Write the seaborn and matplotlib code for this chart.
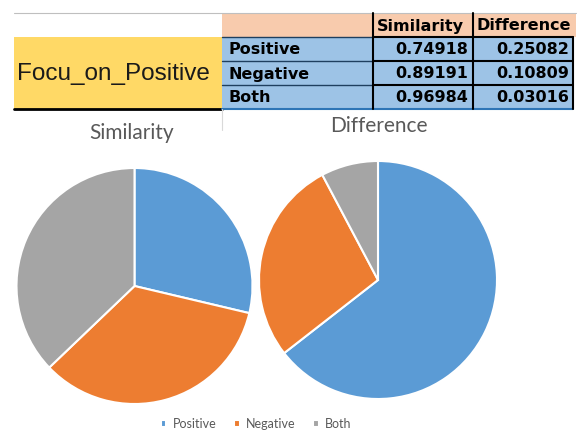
import matplotlib
matplotlib.use("Agg")
import matplotlib.pyplot as plt
import matplotlib.patches as mpatches
import seaborn as sns

# =============================================================================
# Data
# =============================================================================
GROUP_LABEL = "Focu_on_Positive"
CATEGORIES = ["Positive", "Negative", "Both"]
SIMILARITY = [0.74918, 0.89191, 0.96984]
DIFFERENCE = [0.25082, 0.10809, 0.03016]
COLUMNS = ["Similarity", "Difference"]

COLORS = ["#5B9BD5", "#ED7D31", "#A5A5A5"]
TEXT_GRAY = "#595959"

W, H = 585, 430

sns.set_theme(style="white")
plt.rcParams["font.family"] = ["Liberation Sans", "DejaVu Sans"]

fig = plt.figure(figsize=(W / 100, H / 100), dpi=100)

# =============================================================================
# Table drawn in pixel coordinates
# =============================================================================
ax_t = fig.add_axes([0, 0, 1, 1])
ax_t.set_xlim(0, W)
ax_t.set_ylim(H, 0)
ax_t.axis("off")

x_left, x_lab, x_c1, x_c2, x_right = 14, 222, 373, 473, 573
y_top, y_rows = 13, [37, 61, 85, 109]
cell_font = dict(fontsize=11.5, fontweight="bold", family=["DejaVu Sans"], color="black")

# header row
ax_t.add_patch(mpatches.Rectangle((x_lab, y_top), x_right + 3 - x_lab, y_rows[0] - y_top,
                                  color="#F8CBAD", lw=0))
# yellow group cell
ax_t.add_patch(mpatches.Rectangle((x_left, y_rows[0]), x_lab - x_left, y_rows[-1] - y_rows[0],
                                  color="#FFD966", lw=0))
# blue cells
ax_t.add_patch(mpatches.Rectangle((x_lab, y_rows[0]), x_right - x_lab, y_rows[-1] - y_rows[0],
                                  color="#9DC3E6", lw=0))

ax_t.plot([x_left, x_right + 3], [y_top, y_top], color="#BFBFBF", lw=0.8)
ax_t.plot([x_left, x_lab], [y_rows[-1], y_rows[-1]], color="black", lw=2)
ax_t.plot([x_lab, x_right], [y_rows[-1], y_rows[-1]], color="#2E75B6", lw=1.5)
for y in y_rows[:-1]:
    ax_t.plot([x_lab, x_c1], [y, y], color="#1F3F5F", lw=1.0)
    ax_t.plot([x_c1, x_right], [y, y], color="black", lw=1.5)
for x in [x_c1, x_c2]:
    ax_t.plot([x, x], [y_top, y_rows[-1]], color="black", lw=1.5)
ax_t.plot([x_right, x_right], [y_rows[0], y_rows[-1]], color="black", lw=1.5)
ax_t.plot([x_lab, x_lab], [y_rows[-1], 130], color="#D9D9D9", lw=0.8)

ax_t.text(113, (y_rows[0] + y_rows[-1]) / 2 + 1, GROUP_LABEL,
          ha="center", va="center", fontsize=17.5, color="#1a1a1a")
ax_t.text(x_c1 + 4, (y_top + y_rows[0]) / 2 + 1, COLUMNS[0], ha="left", va="center",
          **cell_font)
ax_t.text(x_c2 + 3, (y_top + y_rows[0]) / 2 + 1, COLUMNS[1], ha="left", va="center",
          **cell_font)
for i, cat in enumerate(CATEGORIES):
    yc = (y_rows[i] + y_rows[i + 1]) / 2 + 1
    ax_t.text(x_lab + 6, yc, cat, ha="left", va="center", **cell_font)
    ax_t.text(x_c2 - 5, yc, f"{SIMILARITY[i]:.5f}", ha="right", va="center", **cell_font)
    ax_t.text(x_right - 4, yc, f"{DIFFERENCE[i]:.5f}", ha="right", va="center", **cell_font)

# =============================================================================
# Pies
# =============================================================================
def pie_axes(cx, cy, r):
    return fig.add_axes([(cx - r) / W, (H - cy - r) / H, 2 * r / W, 2 * r / H])


ax1 = pie_axes(134.5, 286, 118)
wedges, _ = ax1.pie(SIMILARITY, colors=COLORS, startangle=90, counterclock=False,
                    wedgeprops=dict(edgecolor="white", linewidth=1.5))
ax1.set_xlim(-1, 1)
ax1.set_ylim(-1, 1)

ax2 = pie_axes(378, 280, 119)
ax2.pie(DIFFERENCE, colors=COLORS, startangle=90, counterclock=False,
        wedgeprops=dict(edgecolor="white", linewidth=1.5))
ax2.set_xlim(-1, 1)
ax2.set_ylim(-1, 1)

ax_t.text(132, 133, COLUMNS[0], ha="center", va="center", fontsize=15,
          color=TEXT_GRAY, family=["Lato", "DejaVu Sans"])
ax_t.text(379, 126, COLUMNS[1], ha="center", va="center", fontsize=15,
          color=TEXT_GRAY, family=["Lato", "DejaVu Sans"])

leg = fig.legend(wedges, CATEGORIES, loc="center", bbox_to_anchor=(256 / W, 1 - 424 / H),
                 ncol=3, frameon=False, handlelength=0.45, handleheight=0.45,
                 handletextpad=0.5, columnspacing=1.4,
                 prop={"family": ["Lato", "DejaVu Sans"], "size": 9})
for t in leg.get_texts():
    t.set_color(TEXT_GRAY)

fig.savefig("out.png", dpi=100)
